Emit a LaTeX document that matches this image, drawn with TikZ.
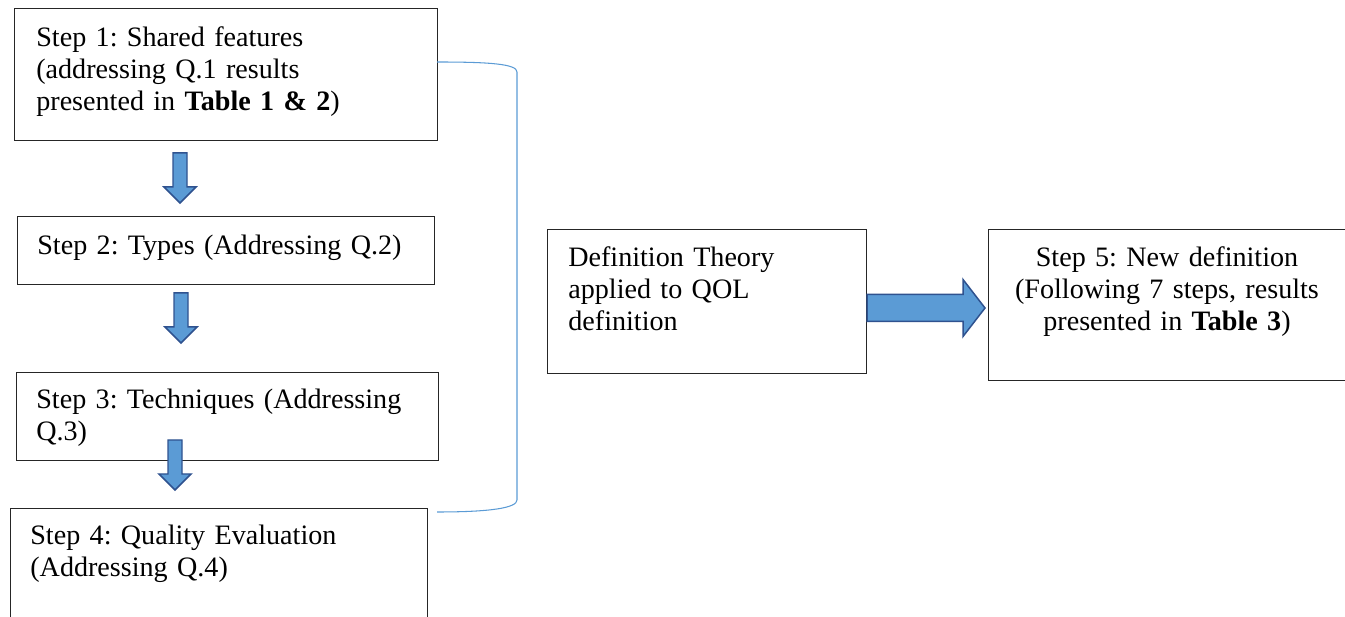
\documentclass[tikz,border=0pt]{standalone}
\usepackage{fontspec}
\setmainfont{Liberation Serif}
\usetikzlibrary{positioning}
\frenchspacing
\definecolor{arrowfill}{RGB}{91,155,213}
\definecolor{arrowline}{RGB}{47,82,143}
\definecolor{bracketblue}{RGB}{91,155,213}
\tikzset{
  stepbox/.style={draw=black!85,line width=0.75pt,anchor=north west,inner sep=0pt},
  steptext/.style={anchor=base west,inner sep=0pt,align=left,text width=8cm},
  blockarrow/.style={fill=arrowfill,draw=arrowline,line width=0.85pt,line join=miter},
  downarrow/.pic={\draw[blockarrow] (-7,0) -- (7,0) -- (7,34) -- (16,34) -- (0,50) -- (-16,34) -- (-7,34) -- cycle;},
  rightarrow/.pic={\draw[blockarrow] (0,-13.5) -- (96,-13.5) -- (96,-28.5) -- (118,0) -- (96,28.5) -- (96,13.5) -- (0,13.5) -- cycle;}
}

\begin{document}
\begin{tikzpicture}[x=0.02cm,y=-0.02cm,every node/.style={font=\fontsize{16}{18.2}\selectfont}]
  \useasboundingbox (0,0) rectangle (1345,617);
  \clip (0,0) rectangle (1345,617);
  % left column
  \node[stepbox,minimum width=8.46cm,minimum height=2.64cm] (s1) at (14,8) {};
  \node[stepbox,minimum width=8.34cm,minimum height=1.36cm] (s2) at (17,216) {};
  \node[stepbox,minimum width=8.44cm,minimum height=1.76cm] (s3) at (16,372) {};
  \node[stepbox,minimum width=8.34cm,minimum height=2.6cm] (s4) at (10,508) {};
  \node[steptext] (s1text) at (36,47) {Step 1: Shared features\\(addressing Q.1 results\\presented in \textbf{Table 1 \& 2})};
  \node[steptext] (s2text) at (37,255) {Step 2: Types (Addressing Q.2)};
  \node[steptext] (s3text) at (36,409) {Step 3: Techniques (Addressing\\Q.3)};
  \node[steptext] (s4text) at (30,545) {Step 4: Quality Evaluation\\(Addressing Q.4)};
  \pic (a1) at (180,153) {downarrow};
  \pic (a2) at (181,293) {downarrow};
  \pic (a3) at (175,440) {downarrow};
  % bracket
  \coordinate (btop) at (437,62);
  \coordinate (bbot) at (437,512);
  \draw[bracketblue,line width=0.6pt] (btop) .. controls (490,62) and (517,64) .. (517,72) -- (517,500) .. controls (517,508) and (490,512) .. (bbot);
  % right part
  \node[stepbox,minimum width=6.38cm,minimum height=2.88cm] (dt) at (547,229) {};
  \node[steptext] (dttext) at (568,267) {Definition Theory\\applied to QOL\\definition};
  \node[stepbox,minimum width=7.44cm,minimum height=3.02cm] (s5) at (988,229) {};
  \node[anchor=base,inner sep=0pt,align=center,text width=7cm] (s5text) at (1167,267) {Step 5: New definition\\(Following 7 steps, results\\presented in \textbf{Table 3})};
  \pic (a4) at (867,308) {rightarrow};
\end{tikzpicture}
\end{document}
